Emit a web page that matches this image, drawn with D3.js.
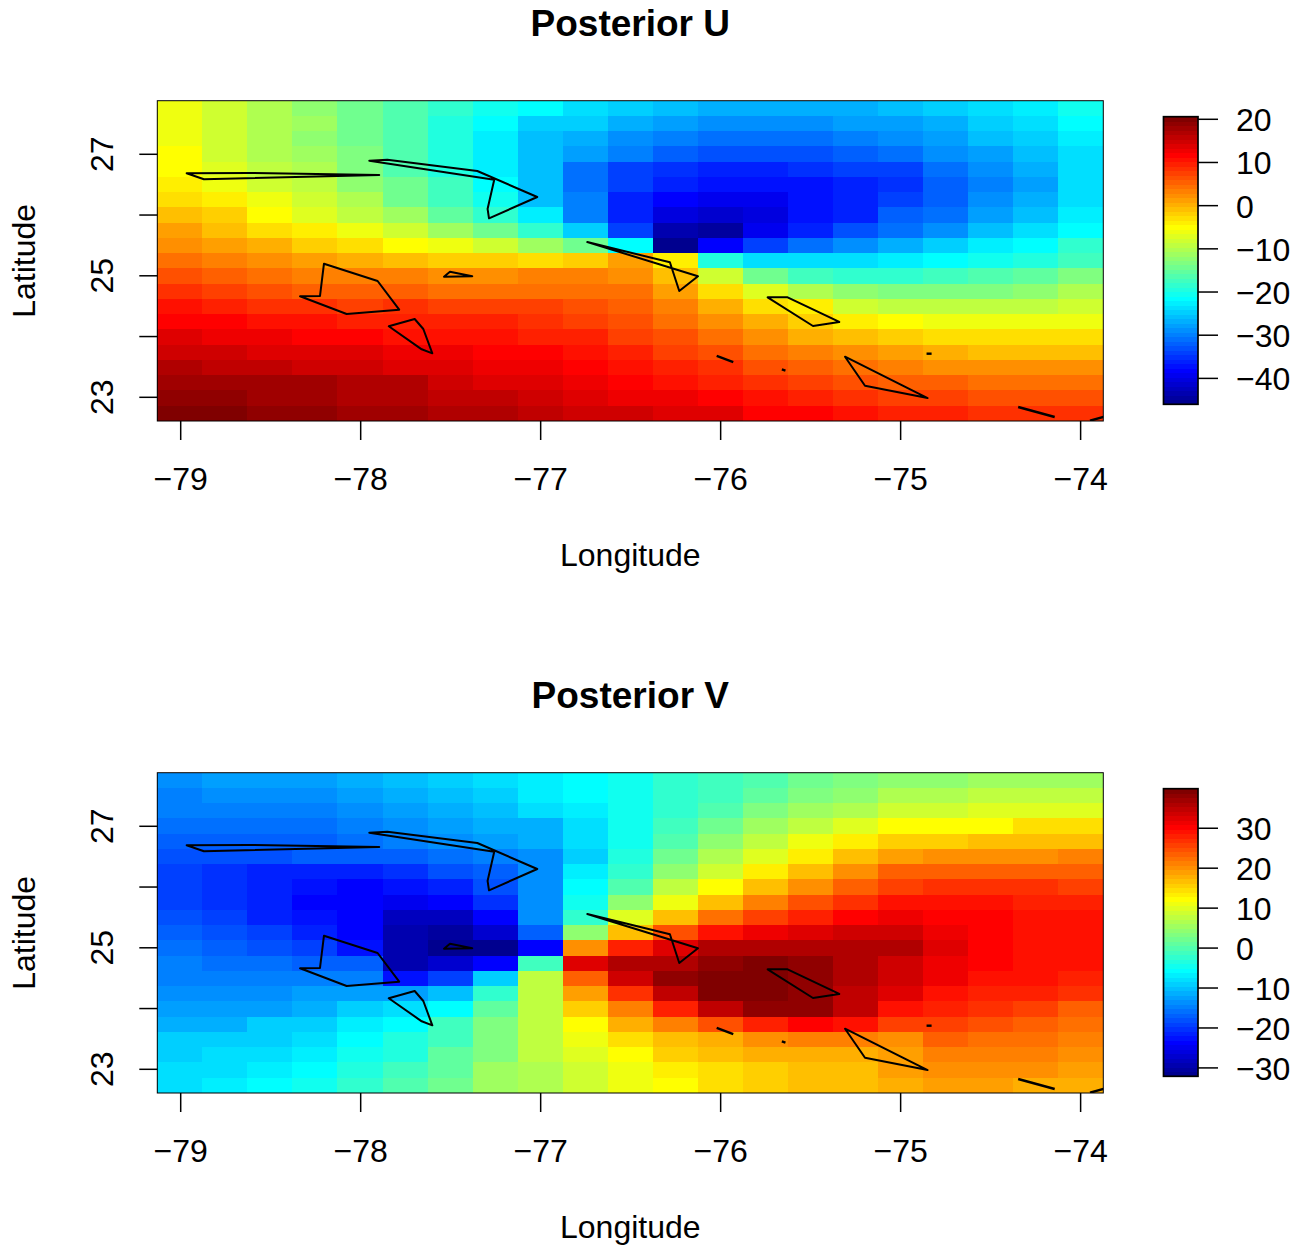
<!DOCTYPE html>
<html>
<head>
<meta charset="utf-8">
<script src="https://cdn.jsdelivr.net/npm/d3@7"></script>
<style>
body { margin: 0; background: #fff; }
text { font-family: "Liberation Sans", Arial, sans-serif; fill: #000; }
</style>
</head>
<body>
<div id="chart-area"></div>
<script>
// grid cell centres
var lons = [-79, -78.75, -78.5, -78.25, -78, -77.75, -77.5, -77.25, -77, -76.75, -76.5, -76.25, -76, -75.75, -75.5, -75.25, -75, -74.75, -74.5, -74.25, -74];
var lats = [27.75, 27.5, 27.25, 27, 26.75, 26.5, 26.25, 26, 25.75, 25.5, 25.25, 25, 24.75, 24.5, 24.25, 24, 23.75, 23.5, 23.25, 23, 22.75];

// rows run from north to south
var posteriorU = [
[-6.0,-8.0,-10.1,-12.2,-14.3,-16.4,-18.4,-20.5,-21.6,-23.6,-24.7,-25.7,-26.8,-26.8,-26.8,-26.8,-25.7,-24.7,-23.6,-22.6,-20.5],
[-6.0,-8.0,-10.1,-11.2,-14.3,-16.4,-19.5,-21.6,-24.7,-24.7,-26.8,-27.8,-28.8,-28.8,-28.8,-27.8,-27.8,-26.8,-24.7,-23.6,-21.6],
[-6.0,-8.0,-10.1,-12.2,-14.3,-16.4,-19.5,-22.6,-25.7,-26.8,-28.8,-29.9,-30.9,-30.9,-30.9,-29.9,-28.8,-27.8,-25.7,-24.7,-22.6],
[-4.9,-8.0,-10.1,-11.2,-13.2,-16.4,-19.5,-22.6,-25.7,-27.8,-29.9,-32.0,-33.0,-33.0,-33.0,-32.0,-30.9,-28.8,-27.8,-25.7,-23.6],
[-4.9,-7.0,-9.1,-10.1,-13.2,-16.4,-19.5,-22.6,-25.7,-30.9,-34.0,-35.1,-36.1,-36.1,-35.1,-34.0,-34.0,-30.9,-28.8,-26.8,-23.6],
[-3.9,-6.0,-8.0,-9.1,-12.2,-14.3,-17.4,-21.6,-25.7,-30.9,-34.0,-36.1,-37.2,-37.2,-37.2,-36.1,-35.1,-32.0,-29.9,-27.8,-23.6],
[-2.8,-3.9,-6.0,-8.0,-10.1,-14.3,-17.4,-20.5,-25.7,-29.9,-36.1,-38.2,-39.2,-39.2,-37.2,-36.1,-34.0,-32.0,-28.8,-26.8,-23.6],
[-0.8,-1.8,-4.9,-7.0,-9.1,-11.2,-15.3,-18.4,-22.6,-29.9,-36.1,-40.3,-41.3,-40.3,-37.2,-36.1,-32.0,-30.9,-27.8,-25.7,-22.6],
[1.3,-0.8,-2.8,-3.9,-6.0,-8.0,-11.2,-14.3,-18.4,-24.7,-34.0,-43.4,-44.4,-39.2,-36.1,-33.0,-30.9,-28.8,-25.7,-23.6,-21.6],
[2.4,1.3,0.3,-1.8,-2.8,-4.9,-6.0,-8.0,-11.2,-14.3,-21.6,-45.5,-38.2,-34.0,-30.9,-28.8,-26.8,-24.7,-22.6,-21.6,-18.4],
[4.4,3.4,2.4,1.3,0.3,-0.8,-1.8,-1.8,-2.8,-1.8,1.3,-3.9,-19.5,-23.6,-23.6,-23.6,-22.6,-21.6,-20.5,-19.5,-17.4],
[6.5,5.5,4.4,3.4,3.4,3.4,2.4,2.4,3.4,3.4,2.4,-0.8,-8.0,-14.3,-17.4,-18.4,-18.4,-17.4,-16.4,-15.3,-13.2],
[8.6,7.6,6.5,5.5,5.5,5.5,4.4,4.4,4.4,4.4,4.4,1.3,-2.8,-7.0,-10.1,-12.2,-13.2,-13.2,-13.2,-12.2,-10.1],
[10.7,9.6,8.6,8.6,7.6,8.6,7.6,7.6,7.6,6.5,5.5,3.4,0.3,-2.8,-3.9,-8.0,-9.1,-9.1,-9.1,-9.1,-8.0],
[11.7,11.7,10.7,10.7,9.6,9.6,9.6,9.6,8.6,7.6,6.5,4.4,2.4,0.3,-1.8,-3.9,-4.9,-6.0,-6.0,-6.0,-6.0],
[13.8,12.8,12.8,11.7,11.7,10.7,10.7,10.7,9.6,9.6,7.6,6.5,4.4,2.4,0.3,-0.8,-1.8,-2.8,-2.8,-2.8,-2.8],
[14.8,14.8,13.8,13.8,13.8,12.8,12.8,11.7,11.7,10.7,9.6,7.6,6.5,4.4,3.4,2.4,1.3,0.3,-0.8,-0.8,-0.8],
[16.9,15.9,15.9,14.8,14.8,13.8,13.8,12.8,12.8,11.7,10.7,9.6,8.6,6.5,5.5,4.4,3.4,2.4,2.4,2.4,2.4],
[18.0,18.0,18.0,18.0,16.9,16.9,14.8,13.8,13.8,12.8,11.7,10.7,9.6,8.6,7.6,6.5,5.5,5.5,4.4,4.4,4.4],
[19.0,19.0,18.0,18.0,16.9,16.9,15.9,15.9,14.8,13.8,12.8,12.8,11.7,10.7,9.6,8.6,7.6,7.6,6.5,6.5,6.5],
[20.0,20.0,19.0,19.0,18.0,18.0,16.9,16.9,15.9,14.8,14.8,13.8,13.8,11.7,11.7,10.7,9.6,9.6,8.6,8.6,8.6]
];

var posteriorV = [
[-13.5,-12.4,-12.4,-12.4,-11.3,-10.2,-9.0,-7.9,-6.8,-5.7,-4.5,-2.3,-1.2,0.0,2.2,3.3,4.5,4.5,5.6,5.6,5.6],
[-14.7,-13.5,-13.5,-13.5,-12.4,-11.3,-10.2,-9.0,-6.8,-5.7,-4.5,-2.3,-1.2,1.1,3.3,4.5,6.7,6.7,7.8,7.8,7.8],
[-14.7,-14.7,-14.7,-14.7,-13.5,-12.4,-11.3,-10.2,-7.9,-6.8,-4.5,-2.3,0.0,3.3,5.6,6.7,9.0,9.0,10.1,10.1,10.1],
[-15.8,-15.8,-15.8,-15.8,-14.7,-13.5,-12.4,-11.3,-11.3,-7.9,-4.5,-1.2,2.2,5.6,7.8,10.1,12.3,12.3,12.3,14.6,14.6],
[-16.9,-16.9,-16.9,-16.9,-15.8,-14.7,-13.5,-12.4,-11.3,-7.9,-4.5,0.0,4.5,7.8,11.2,13.5,15.7,15.7,16.8,16.8,16.8],
[-18.0,-18.0,-18.0,-16.9,-16.9,-16.9,-15.8,-14.7,-13.5,-9.0,-3.4,2.2,6.7,10.1,13.5,16.8,19.1,20.2,20.2,20.2,21.3],
[-19.2,-20.3,-21.4,-21.4,-21.4,-20.3,-18.0,-16.9,-13.5,-6.8,-2.3,4.5,9.0,13.5,16.8,20.2,23.6,23.6,23.6,23.6,23.6],
[-19.2,-20.3,-21.4,-22.5,-23.7,-22.5,-21.4,-18.0,-13.5,-5.7,0.0,7.8,12.3,16.8,20.2,23.6,25.8,27.0,27.0,27.0,25.8],
[-19.2,-20.3,-21.4,-23.7,-23.7,-24.8,-23.7,-20.3,-13.5,-4.5,4.5,11.2,16.8,21.3,24.7,27.0,29.2,29.2,29.2,28.1,28.1],
[-18.0,-19.2,-21.4,-22.5,-23.7,-28.2,-28.2,-23.7,-13.5,-2.3,10.1,16.8,22.5,25.8,28.1,30.3,31.5,30.3,30.3,29.2,29.2],
[-16.9,-18.0,-19.2,-21.4,-23.7,-29.3,-30.4,-27.0,-16.9,4.5,16.8,24.7,29.2,31.5,32.6,33.7,33.7,31.5,30.3,29.2,29.2],
[-15.8,-16.9,-18.0,-19.2,-22.5,-29.3,-31.5,-31.5,-23.7,20.2,28.1,32.6,36.0,36.0,36.0,36.0,36.0,32.6,30.3,29.2,29.2],
[-14.7,-15.8,-15.8,-16.9,-16.9,-29.3,-27.0,-23.7,-1.2,32.6,36.0,36.0,38.2,39.3,38.2,36.0,33.7,31.5,30.3,29.2,29.2],
[-14.7,-14.7,-14.7,-14.7,-14.7,-22.5,-19.2,-9.0,7.8,23.6,33.7,38.2,39.3,39.3,38.2,36.0,33.7,31.5,29.2,29.2,28.1],
[-13.5,-13.5,-13.5,-12.4,-12.4,-12.4,-10.2,-2.3,7.8,19.1,27.0,34.8,39.3,39.3,38.2,34.8,32.6,29.2,28.1,28.1,27.0],
[-12.4,-12.4,-12.4,-11.3,-9.0,-7.9,-5.7,1.1,7.8,15.7,21.3,28.1,34.8,38.2,38.2,34.8,29.2,28.1,27.0,25.8,23.6],
[-11.3,-11.3,-9.0,-9.0,-6.8,-5.7,-1.2,3.3,7.8,12.3,18.0,21.3,24.7,28.1,30.3,29.2,25.8,25.8,24.7,23.6,22.5],
[-9.0,-9.0,-9.0,-7.9,-5.7,-3.4,-1.2,3.3,7.8,11.2,14.6,16.8,18.0,20.2,21.3,21.3,20.2,23.6,22.5,22.5,21.3],
[-9.0,-7.9,-7.9,-6.8,-4.5,-3.4,1.1,3.3,7.8,10.1,12.3,15.7,16.8,18.0,18.0,18.0,19.1,21.3,21.3,21.3,20.2],
[-7.9,-7.9,-6.8,-5.7,-3.4,-1.2,1.1,5.6,6.7,9.0,11.2,13.5,14.6,15.7,16.8,16.8,19.1,20.2,20.2,20.2,19.1],
[-7.9,-6.8,-5.7,-4.5,-2.3,0.0,2.2,5.6,6.7,9.0,11.2,12.3,14.6,15.7,16.8,16.8,18.0,19.1,19.1,18.0,18.0]
];

var rangeU = [-46, 20.6];
var rangeV = [-32.1, 39.9];
var ticksU = [-40, -30, -20, -10, 0, 10, 20];
var ticksV = [-30, -20, -10, 0, 10, 20, 30];
var lonTicks = [-79, -78, -77, -76, -75, -74];
var latTicks = [23, 24, 25, 26, 27];

// island outlines as [lon, lat]
var islands = [
    [[-78.967,26.687],[-78.871,26.588],[-77.897,26.659],[-78.615,26.692]],
    [[-77.952,26.895],[-77.258,26.582],[-77.295,26.1],[-77.287,25.946],[-77.019,26.297],[-77.352,26.725],[-77.852,26.911]],
    [[-78.204,25.199],[-77.906,24.914],[-77.786,24.442],[-78.078,24.371],[-78.337,24.663],[-78.226,24.668]],
    [[-77.844,24.169],[-77.7,24.289],[-77.652,24.124],[-77.602,23.724],[-77.661,23.79]],
    [[-77.537,24.985],[-77.504,25.067],[-77.38,24.992]],
    [[-76.741,25.556],[-76.282,25.222],[-76.23,24.75],[-76.126,24.992]],
    [[-75.739,24.646],[-75.628,24.646],[-75.341,24.24],[-75.487,24.174]],
    [[-75.309,23.668],[-75.198,23.191],[-74.85,22.988]],
    [[-76.022,23.68],[-75.93,23.581]],
    [[-75.66,23.46],[-75.64,23.44]],
    [[-74.856,23.718],[-74.828,23.718]],
    [[-74.347,22.84],[-74.144,22.676]],
    [[-73.948,22.615],[-73.8,22.74]]
];

var plot = {left: 157.3, right: 1103.3, top: 100.7, bottom: 421};
var bar = {left: 1163.5, right: 1198, top: 116.7, bottom: 404.3};
var panelGap = 672;

var svg = d3.select("#chart-area")
    .append("svg")
        .attr("width", 1307)
        .attr("height", 1247)
        .style("display", "block");

// tim.colors style palette, 64 steps
var jet = d3.scaleLinear()
    .domain([0, 7, 23, 39, 55, 63])
    .range(["#00008F", "#0000FF", "#00FFFF", "#FFFF00", "#FF0000", "#800000"]);
var palette = d3.range(64).map((i) => d3.rgb(jet(i)).formatHex());

var x = d3.scaleLinear().domain([-79.13, -73.874]).range([plot.left, plot.right]);
var y = d3.scaleLinear().domain([22.61, 27.882]).range([plot.bottom, plot.top]);
var xCell = d3.scaleBand().domain(lons).range([plot.left, plot.right]);
var yCell = d3.scaleBand().domain(lats).range([plot.top, plot.bottom]);

svg.append("defs").append("clipPath")
    .attr("id", "plot-clip")
    .append("rect")
        .attr("x", plot.left)
        .attr("y", plot.top)
        .attr("width", plot.right - plot.left)
        .attr("height", plot.bottom - plot.top);

function drawPanel(index, title, values, zRange, zTicks) {
    var g = svg.append("g")
        .attr("transform", "translate(0, " + (index * panelGap) + ")");

    var color = d3.scaleQuantize().domain(zRange).range(palette);

    var cells = [];
    values.forEach((row, r) => {
        row.forEach((v, c) => {
            cells.push({lon: lons[c], lat: lats[r], value: v});
        });
    });

    g.append("g").selectAll("rect")
        .data(cells)
        .enter().append("rect")
            .attr("x", (d) => xCell(d.lon))
            .attr("y", (d) => yCell(d.lat))
            .attr("width", xCell.bandwidth())
            .attr("height", yCell.bandwidth())
            .attr("fill", (d) => color(d.value))
            .attr("shape-rendering", "crispEdges");

    var line = d3.line().x((d) => x(d[0])).y((d) => y(d[1]));
    g.append("g")
        .attr("clip-path", "url(#plot-clip)")
        .selectAll("path")
        .data(islands)
        .enter().append("path")
            .attr("d", (d) => line(d) + (d.length > 2 ? "Z" : ""))
            .attr("fill", "none")
            .attr("stroke", "#000")
            .attr("stroke-linejoin", "round")
            .attr("stroke-width", (d) => d.length > 2 ? 2 : 2.4);

    g.append("rect")
        .attr("x", plot.left)
        .attr("y", plot.top)
        .attr("width", plot.right - plot.left)
        .attr("height", plot.bottom - plot.top)
        .attr("fill", "none")
        .attr("stroke", "#000")
        .attr("stroke-width", 1);

    // axes
    var bottomAxis = d3.axisBottom(x).tickValues(lonTicks).tickSize(19).tickPadding(27).offset(0)
        .tickFormat(d3.format("d"));
    var xAxis = g.append("g")
        .attr("transform", "translate(0, " + plot.bottom + ")")
        .call(bottomAxis);
    xAxis.select(".domain").remove();
    xAxis.selectAll("line").attr("stroke", "#000").attr("stroke-width", 1.5);
    xAxis.selectAll("text").attr("font-size", "32px");

    var leftAxis = d3.axisLeft(y).tickValues(latTicks).tickSize(18).offset(0)
        .tickFormat((d) => d % 2 ? d : "");
    var yAxis = g.append("g")
        .attr("transform", "translate(" + plot.left + ", 0)")
        .call(leftAxis);
    yAxis.select(".domain").remove();
    yAxis.selectAll("line").attr("stroke", "#000").attr("stroke-width", 1.5);
    yAxis.selectAll("text")
        .attr("x", 0)
        .attr("y", 0)
        .attr("dy", 0)
        .attr("font-size", "32px")
        .attr("text-anchor", "middle")
        .attr("transform", "translate(-44.3, 0) rotate(-90)");

    // colour bar
    var zScale = d3.scaleLinear().domain(zRange).range([bar.bottom, bar.top]);
    var step = (zRange[1] - zRange[0]) / palette.length;
    g.append("g").selectAll("rect")
        .data(palette)
        .enter().append("rect")
            .attr("x", bar.left)
            .attr("y", (d, i) => zScale(zRange[0] + (i + 1) * step))
            .attr("width", bar.right - bar.left)
            .attr("height", (bar.bottom - bar.top) / palette.length + 0.5)
            .attr("fill", (d) => d)
            .attr("shape-rendering", "crispEdges");
    g.append("rect")
        .attr("x", bar.left)
        .attr("y", bar.top)
        .attr("width", bar.right - bar.left)
        .attr("height", bar.bottom - bar.top)
        .attr("fill", "none")
        .attr("stroke", "#000")
        .attr("stroke-width", 1.7);

    var rightAxis = d3.axisRight(zScale).tickValues(zTicks).tickSize(20).tickPadding(18).offset(0);
    var zAxis = g.append("g")
        .attr("transform", "translate(" + bar.right + ", 0)")
        .call(rightAxis);
    zAxis.select(".domain").remove();
    zAxis.selectAll("line").attr("stroke", "#000").attr("stroke-width", 1.5);
    zAxis.selectAll("text").attr("font-size", "32px").attr("dy", "0.37em");

    // labels
    g.append("text")
        .attr("x", (plot.left + plot.right) / 2)
        .attr("y", 36)
        .attr("font-size", "37px")
        .attr("font-weight", "bold")
        .attr("text-anchor", "middle")
        .text(title);

    g.append("text")
        .attr("x", (plot.left + plot.right) / 2)
        .attr("y", 566)
        .attr("font-size", "32px")
        .attr("text-anchor", "middle")
        .text("Longitude");

    g.append("text")
        .attr("transform", "translate(35, " + ((plot.top + plot.bottom) / 2) + ") rotate(-90)")
        .attr("font-size", "32px")
        .attr("text-anchor", "middle")
        .text("Latitude");
}

drawPanel(0, "Posterior U", posteriorU, rangeU, ticksU);
drawPanel(1, "Posterior V", posteriorV, rangeV, ticksV);
</script>
</body>
</html>
